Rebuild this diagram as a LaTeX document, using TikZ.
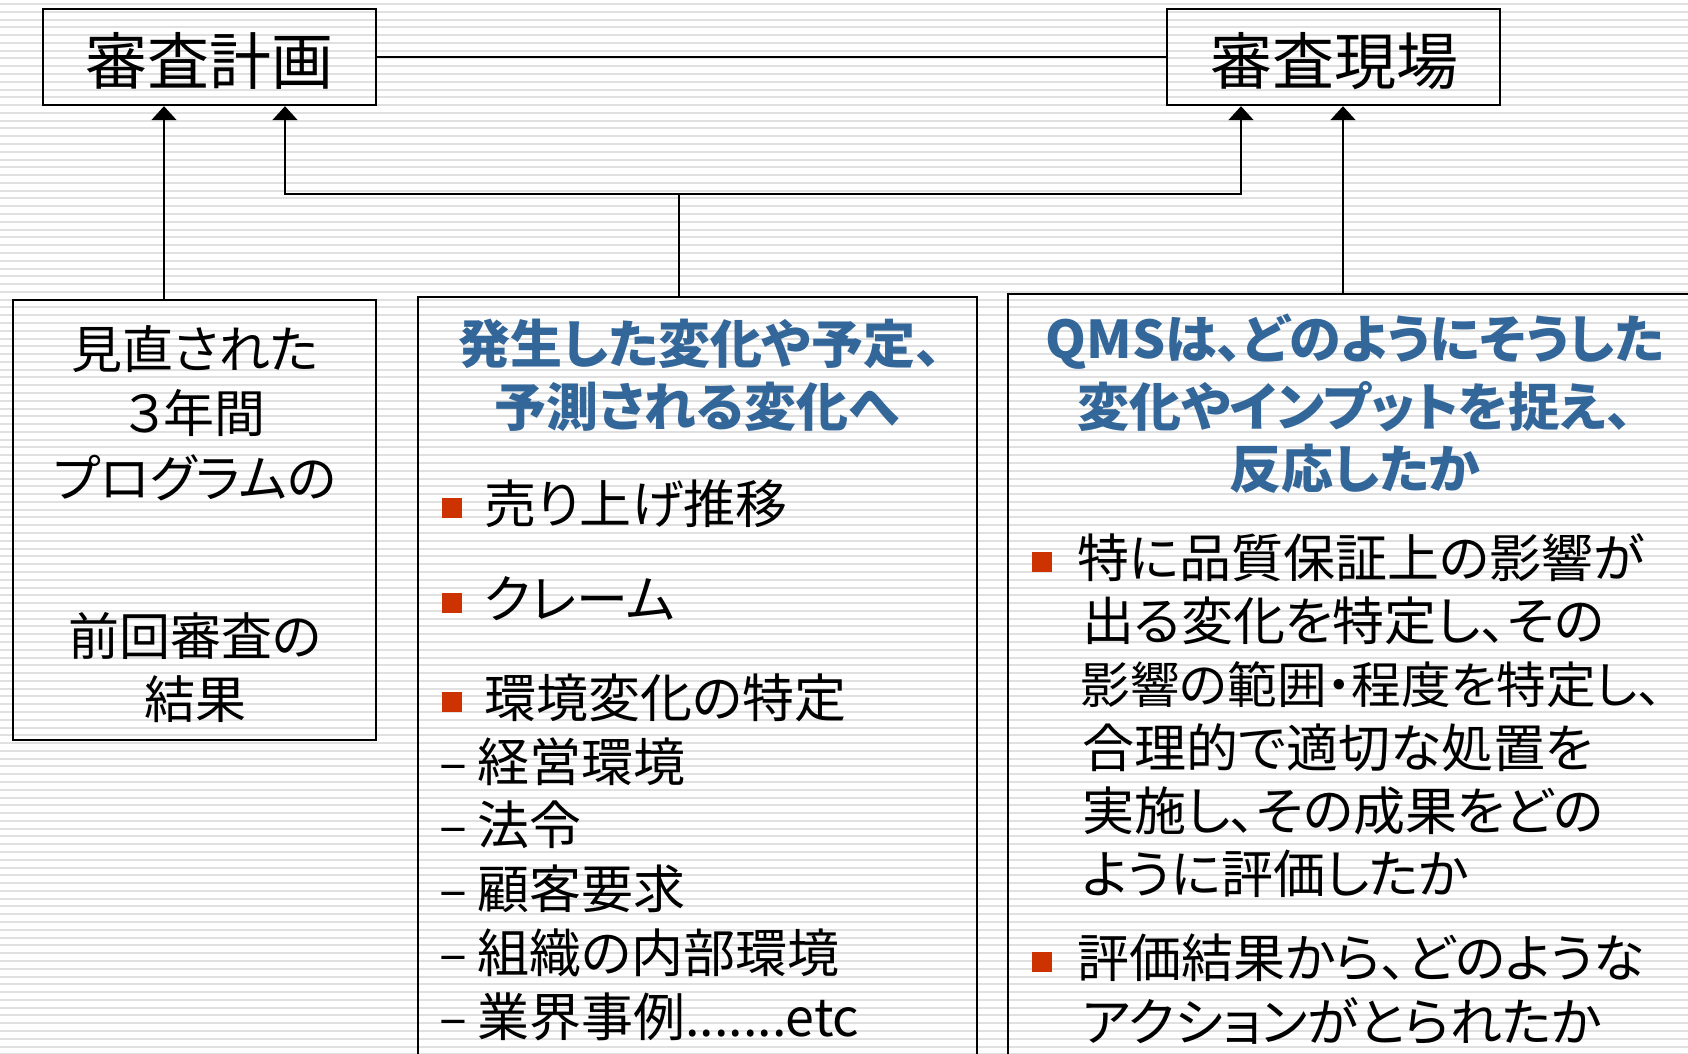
\documentclass[tikz,border=0pt]{standalone}
\usepackage{fontspec}
\setmainfont{Noto Sans CJK JP}[RawFeature=+palt]
\usetikzlibrary{arrows.meta,fit}
\definecolor{hdblue}{HTML}{336699}
\definecolor{bulred}{HTML}{CC3300}
\definecolor{stripecol}{HTML}{E0E0E0}
\tikzset{
  box/.style={draw=black,line width=1.2pt,inner sep=0pt},
  conn/.style={draw=black,line width=1pt},
  tip/.tip={Triangle[width=12.5pt,length=7pt]},
  arr/.style={conn,-tip},
  titletxt/.style={font=\fontsize{31}{36}\selectfont,inner sep=0pt},
  lefttxt/.style={font=\fontsize{25.5}{30}\selectfont,inner sep=0pt},
  hdr/.style={font=\fontsize{26}{30}\selectfont\bfseries,text=hdblue,inner sep=0pt},
  item/.style={font=\fontsize{26}{30}\selectfont,inner sep=0pt,anchor=west},
  sq/.style={fill=bulred,minimum size=10pt,inner sep=0pt},
  stripeline/.style={draw=stripecol,line width=1pt}
}
\begin{document}
\begin{tikzpicture}[x=0.5pt,y=-0.5pt]
\useasboundingbox (0,0) rectangle (1688,1054);
\fill[white] (0,0) rectangle (1688,1054);
\foreach \i in {0,...,135} \draw[stripeline] (0,{4+7.78*\i}) -- (1688,{4+7.78*\i});

% boxes
\node[box,fit={(43,9) (376,105)}] (plan) {};
\node[box,fit={(1167,9) (1500,105)}] (site) {};
\node[box,fit={(13,300) (376,740)}] (prev) {};
\node[box,fit={(418,297) (977,1080)}] (mid) {};
\node[box,fit={(1008,294) (1710,1080)}] (resp) {};

% titles
\node[titletxt] (planT) at (209.5,61) {審査計画};
\node[titletxt] (siteT) at (1334,61) {審査現場};

% connectors
\coordinate (xa) at (164,0);
\coordinate (xb) at (285,0);
\coordinate (xc) at (1241,0);
\coordinate (xd) at (1343,0);
\coordinate (xm) at (679,0);
\coordinate (hy) at (0,194);
\draw[conn] (plan.east) -- (site.west);
\draw[arr] (prev.north -| xa) -- (plan.south -| xa);
\draw[conn,tip-tip] (plan.south -| xb) -- (xb |- hy) -- (xc |- hy) -- (site.south -| xc);
\draw[conn] (mid.north -| xm) -- (xm |- hy);
\draw[arr] (resp.north -| xd) -- (site.south -| xd);

% left box
\node[lefttxt] (p1) at (195,349) {見直された};
\node[lefttxt] (p2) at (195,413) {３年間};
\node[lefttxt] (p3) at (195,478) {プログラムの};
\node[lefttxt] (p4) at (195,636) {前回審査の};
\node[lefttxt] (p5) at (195,699) {結果};

% middle box
\node[hdr] (m1) at (700,344) {発生した変化や予定、};
\node[hdr] (m2) at (697,407) {予測される変化へ};
\node[sq] (mb1) at (452,508) {};
\node[item] (mi1) at (484,504) {売り上げ推移};
\node[sq] (mb2) at (452,603) {};
\node[item] (mi2) at (484,599) {クレーム};
\node[sq] (mb3) at (452,702) {};
\node[item] (mi3) at (484,698) {環境変化の特定};
\node[item] (md1) at (439,762) {\makebox[19pt][l]{–}経営環境};
\node[item] (md2) at (439,825) {\makebox[19pt][l]{–}法令};
\node[item] (md3) at (439,889) {\makebox[19pt][l]{–}顧客要求};
\node[item] (md4) at (439,953) {\makebox[19pt][l]{–}組織の内部環境};
\node[item] (md5) at (439,1017) {\makebox[19pt][l]{–}業界事例.......etc};

% right box
\node[hdr] (r1) at (1355,342) {QMSは、どのようにそうした};
\node[hdr] (r2) at (1355,407) {変化やインプットを捉え、};
\node[hdr] (r3) at (1355,469) {反応したか};
\node[sq] (rb1) at (1042,562) {};
\node[item] (ri1) at (1077,558) {特に品質保証上の影響が};
\node[item] (ri2) at (1082,621) {出る変化を特定し、その};
\node[item,font=\fontsize{24.8}{30}\selectfont] (ri3) at (1080,685) {影響の範囲・程度を特定し、};
\node[item] (ri4) at (1082,748) {合理的で適切な処置を};
\node[item] (ri5) at (1082,811) {実施し、その成果をどの};
\node[item] (ri6) at (1082,874) {ように評価したか};
\node[sq] (rb2) at (1042,962) {};
\node[item] (ri7) at (1077,958) {評価結果から、どのような};
\node[item] (ri8) at (1082,1021) {アクションがとられたか};
\end{tikzpicture}
\end{document}
